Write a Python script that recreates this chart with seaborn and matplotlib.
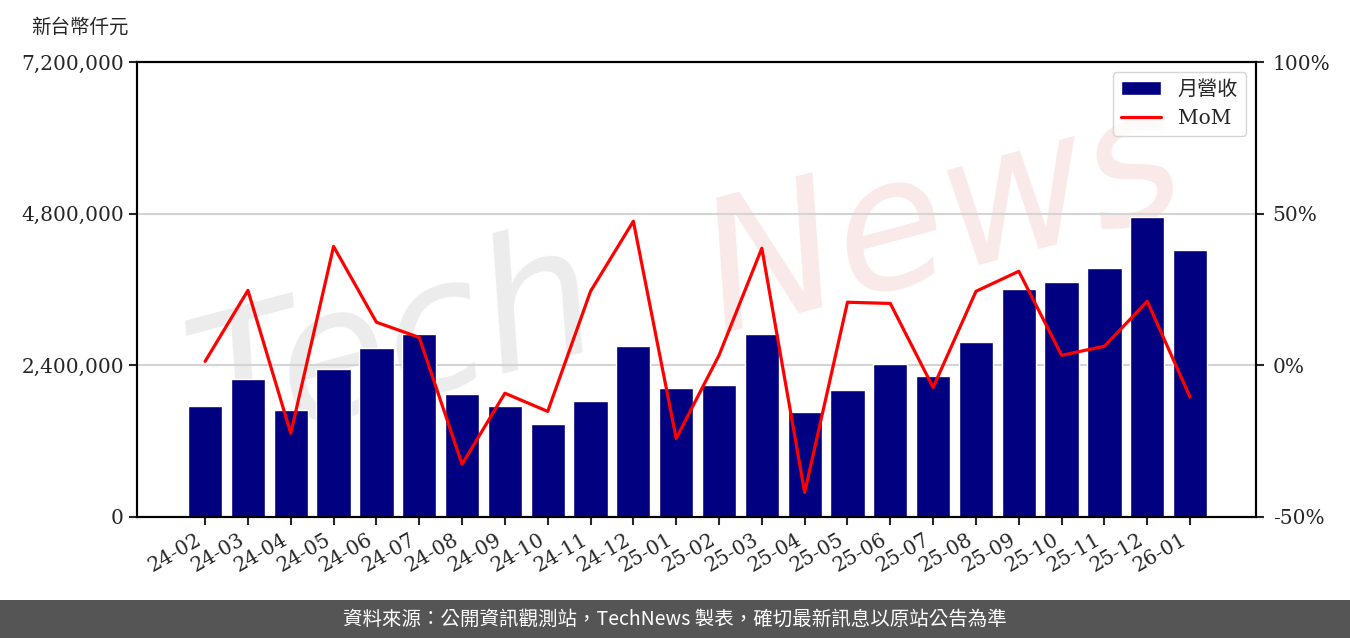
import matplotlib
matplotlib.use("Agg")
import matplotlib.pyplot as plt
import matplotlib.ticker as mticker
from matplotlib.patches import Rectangle
import seaborn as sns
import numpy as np
import pandas as pd

sns.set_style("ticks")
plt.rcParams['font.family'] = ['DejaVu Serif', 'Noto Sans CJK TC']

# data
months = ["24-02", "24-03", "24-04", "24-05", "24-06", "24-07", "24-08", "24-09",
          "24-10", "24-11", "24-12", "25-01", "25-02", "25-03", "25-04", "25-05",
          "25-06", "25-07", "25-08", "25-09", "25-10", "25-11", "25-12", "26-01"]
revenue = [1756000, 2184000, 1693000, 2342000, 2674000, 2896000, 1946000, 1756000,
           1472000, 1836000, 2706000, 2041000, 2089000, 2896000, 1661000, 2010000,
           2421000, 2231000, 2769000, 3608000, 3719000, 3940000, 4747000, 4225000]
mom = [1.3, 24.7, -22.4, 39.2, 14.2, 9.2, -32.6, -9.2,
       -15.2, 24.4, 47.5, -24.1, 3.3, 38.6, -41.9, 20.8,
       20.4, -7.3, 24.4, 31.0, 3.3, 6.3, 21.1, -10.5]
left_ticks = [0, 2400000, 4800000, 7200000]
right_ticks = [-50, 0, 50, 100]

df = pd.DataFrame({"month": months, "revenue": revenue, "mom": mom})
df["pos"] = np.arange(len(df))

fs = 14.5
fig = plt.figure(figsize=(13.5, 6.38), dpi=100)
ax = fig.add_axes([0.1015, 0.1897, 0.8289, 0.7131])

# watermark
ax.text(0.23, 0.37, "Tech", transform=ax.transAxes, fontsize=130,
        fontstyle="italic", family="DejaVu Sans", color="#ececec", rotation=15,
        ha="center", va="center", zorder=0.5)
ax.text(0.72, 0.65, "News", transform=ax.transAxes, fontsize=130,
        fontstyle="italic", family="DejaVu Sans", color="#fae9e9", rotation=15,
        ha="center", va="center", zorder=0.5)

sns.barplot(data=df, x="month", y="revenue", color="#000080", saturation=1,
            width=0.8, ax=ax, label="月營收", zorder=2)
if ax.get_legend():
    ax.get_legend().remove()

ax.set_xlim(-1.59, 24.54)
ax.set_ylim(0, 7200000)
ax.set_yticks(left_ticks)
ax.yaxis.set_major_formatter(mticker.FuncFormatter(lambda v, p: f"{int(v):,}"))
ax.set_xlabel("")
ax.set_ylabel("")
ax.set_axisbelow(True)
ax.yaxis.grid(True, color="#d4d4d4", lw=1.5)
ax.set_xticks(range(len(months)))
ax.set_xticklabels(months, rotation=30, ha="right")
ax.tick_params(axis="both", labelsize=fs, width=1.5, length=6, direction="out")

ax2 = ax.twinx()
sns.lineplot(data=df, x="pos", y="mom", color="#ff0000", lw=2.3, ax=ax2, label="MoM")
ax2.set_ylim(-50, 100)
ax2.set_yticks(right_ticks)
ax2.yaxis.set_major_formatter(mticker.FuncFormatter(lambda v, p: f"{int(v)}%"))
ax2.set_ylabel("")
ax2.set_xlabel("")
ax2.tick_params(axis="y", labelsize=fs, width=1.5, length=6, direction="out", pad=6)

for a in (ax, ax2):
    for s in a.spines.values():
        s.set_visible(True)
        s.set_color("black")
        s.set_linewidth(1.5)

h1, l1 = ax.get_legend_handles_labels()
h2, l2 = ax2.get_legend_handles_labels()
leg = ax2.legend(h1[:1] + h2, l1[:1] + l2, loc="upper right", fontsize=fs,
                 frameon=True, fancybox=True, edgecolor="#cccccc",
                 borderaxespad=0.5)

fig.text(31 / 1350, 1 - 27 / 638, "新台幣仟元", fontsize=14, ha="left", va="center",
         family=["Noto Sans CJK TC"])

# footer band
fig.patches.append(Rectangle((0, 0), 1, 38 / 638, transform=fig.transFigure,
                             facecolor="#555555", edgecolor="none", zorder=0))
fig.text(0.5, 19 / 638, "資料來源：公開資訊觀測站，TechNews 製表，確切最新訊息以原站公告為準",
         color="white", fontsize=14, ha="center", va="center",
         family=["Noto Sans CJK TC", "DejaVu Sans"])

fig.savefig("out.png", dpi=100)
